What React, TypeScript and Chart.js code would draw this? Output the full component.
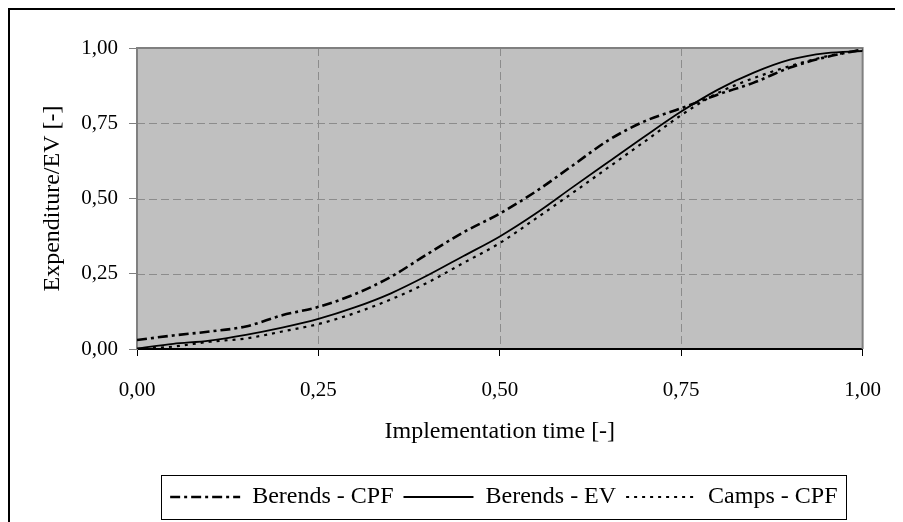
import React, { useEffect, useRef } from 'react';
import { Chart, registerables } from 'chart.js';

Chart.register(...registerables);

// ---- data ----
const T = [0, 0.05, 0.1, 0.15, 0.2, 0.25, 0.3, 0.35, 0.4, 0.45, 0.5, 0.55, 0.6, 0.65, 0.7, 0.75, 0.8, 0.85, 0.9, 0.95, 1.0];
const BERENDS_CPF = [0.03, 0.045, 0.058, 0.075, 0.112, 0.14, 0.182, 0.24, 0.315, 0.388, 0.45, 0.524, 0.609, 0.694, 0.757, 0.8, 0.845, 0.885, 0.935, 0.97, 0.995];
const BERENDS_EV = [0.002, 0.017, 0.028, 0.047, 0.071, 0.1, 0.138, 0.185, 0.244, 0.309, 0.374, 0.451, 0.537, 0.622, 0.707, 0.789, 0.861, 0.918, 0.961, 0.983, 0.99];
const CAMPS_CPF = [0.0, 0.008, 0.024, 0.035, 0.058, 0.083, 0.119, 0.165, 0.22, 0.286, 0.352, 0.434, 0.518, 0.604, 0.69, 0.777, 0.85, 0.9, 0.94, 0.972, 0.995];

const SERIES_NAMES = ['Berends - CPF', 'Berends - EV', 'Camps - CPF'];
const X_TICK_LABELS = ['0,00', '0,25', '0,50', '0,75', '1,00'];
const Y_TICK_LABELS = ['0,00', '0,25', '0,50', '0,75', '1,00'];
const X_TITLE = 'Implementation time [-]';
const Y_TITLE = 'Expenditure/EV [-]';

const FONT = "'Liberation Serif', 'Times New Roman', serif";

const framePlugin = {
  id: 'frame',
  afterLayout(chart: any) {
    const l = chart.legend;
    const a = chart.chartArea;
    if (l && a) {
      l.left = a.left + 4;
      l.right = a.right + 4;
      l.width = a.right - a.left;
    }
  },
  beforeDraw(chart: any) {
    const { ctx, chartArea: a, width, height } = chart;
    ctx.save();
    ctx.fillStyle = '#ffffff';
    ctx.fillRect(0, 0, width, height);
    ctx.fillStyle = '#c0c0c0';
    ctx.fillRect(a.left, a.top, a.right - a.left, a.bottom - a.top);
    ctx.strokeStyle = '#000000';
    ctx.lineWidth = 2;
    ctx.beginPath();
    ctx.moveTo(1, height);
    ctx.lineTo(1, 1);
    ctx.lineTo(width, 1);
    ctx.stroke();
    // dashed grid
    ctx.strokeStyle = '#8c8c8c';
    ctx.lineWidth = 1;
    ctx.setLineDash([8, 4]);
    const xs = chart.scales.x;
    const ys = chart.scales.y;
    for (const t of xs.ticks) {
      if (t.value <= xs.min || t.value >= xs.max) continue;
      const px = Math.round(xs.getPixelForValue(t.value)) + 0.5;
      ctx.beginPath();
      ctx.moveTo(px, a.top);
      ctx.lineTo(px, a.bottom);
      ctx.stroke();
    }
    for (const t of ys.ticks) {
      if (t.value <= ys.min || t.value >= ys.max) continue;
      const py = Math.round(ys.getPixelForValue(t.value)) + 0.5;
      ctx.beginPath();
      ctx.moveTo(a.left, py);
      ctx.lineTo(a.right, py);
      ctx.stroke();
    }
    ctx.restore();
  },
  beforeDatasetsDraw(chart: any) {
    const { ctx, chartArea: a } = chart;
    ctx.save();
    ctx.strokeStyle = '#808080';
    ctx.lineWidth = 2;
    ctx.beginPath();
    ctx.moveTo(a.left, a.top);
    ctx.lineTo(a.right, a.top);
    ctx.lineTo(a.right, a.bottom);
    ctx.stroke();
    ctx.restore();
  },
  afterDraw(chart: any) {
    const l = chart.legend;
    if (!l || !l.legendHitBoxes || !l.legendHitBoxes.length) return;
    const boxes = l.legendHitBoxes;
    let minX = Infinity;
    let maxX = -Infinity;
    for (const b of boxes) {
      minX = Math.min(minX, b.left);
      maxX = Math.max(maxX, b.left + b.width);
    }
    const { ctx } = chart;
    ctx.save();
    ctx.strokeStyle = '#000000';
    ctx.lineWidth = 1;
    const x0 = Math.round(minX - 9) + 0.5;
    const x1 = Math.round(maxX + 9) + 0.5;
    const y0 = Math.round(l.top) + 0.5;
    const y1 = Math.round(l.bottom) + 0.5;
    ctx.strokeRect(x0, y0, x1 - x0, y1 - y0);
    ctx.restore();
  },
};

export default function App() {
  const canvasRef = useRef<HTMLCanvasElement | null>(null);

  useEffect(() => {
    const canvas = canvasRef.current;
    if (!canvas) return;
    const series = [BERENDS_CPF, BERENDS_EV, CAMPS_CPF];
    const styles = [
      { dash: [10, 4, 3, 4], width: 2.6 },
      { dash: [], width: 1.8 },
      { dash: [3, 5], width: 2.2 },
    ];
    const chart = new Chart(canvas, {
      type: 'line',
      data: {
        datasets: series.map((vals, i) => ({
          label: SERIES_NAMES[i],
          data: T.map((t, j) => ({ x: t, y: vals[j] })),
          borderColor: '#000000',
          backgroundColor: '#000000',
          borderWidth: styles[i].width,
          borderDash: styles[i].dash,
          pointRadius: 0,
          pointHoverRadius: 0,
          cubicInterpolationMode: 'monotone' as const,
          fill: false,
        })),
      },
      options: {
        animation: false,
        responsive: false,
        maintainAspectRatio: false,
        events: [],
        layout: { padding: { left: 0, top: 40, right: 29, bottom: 3 } },
        scales: {
          x: {
            type: 'linear',
            min: 0,
            max: 1,
            afterFit: (s: any) => { s.height = 126; },
            ticks: {
              stepSize: 0.25,
              padding: 22,
              color: '#000000',
              font: { family: FONT, size: 21 },
              maxRotation: 0,
              callback: (_v: any, i: number) => X_TICK_LABELS[i],
            },
            grid: {
              drawOnChartArea: false,
              color: '#000000',
              tickLength: 7,
              tickColor: '#000000',
              tickWidth: 1,
            },
            border: { display: true, color: '#000000', width: 2 },
            title: {
              display: true,
              text: X_TITLE,
              color: '#000000',
              font: { family: FONT, size: 24 },
              padding: { top: 0, bottom: 29 },
            },
          },
          y: {
            type: 'linear',
            min: 0,
            max: 1,
            afterFit: (s: any) => { s.width = 129; },
            ticks: {
              stepSize: 0.25,
              padding: 11,
              color: '#000000',
              font: { family: FONT, size: 21 },
              callback: (_v: any, i: number) => Y_TICK_LABELS[i],
            },
            grid: {
              drawOnChartArea: false,
              color: '#808080',
              tickLength: 8,
              tickColor: '#808080',
              tickWidth: 1,
            },
            border: { display: true, color: '#808080', width: 2 },
            title: {
              display: true,
              text: Y_TITLE,
              color: '#000000',
              font: { family: FONT, size: 24 },
              padding: { top: 30, bottom: 0 },
            },
          },
        },
        plugins: {
          tooltip: { enabled: false },
          legend: {
            display: true,
            position: 'bottom',
            labels: {
              usePointStyle: true,
              pointStyle: 'line',
              pointStyleWidth: 70,
              padding: 10,
              color: '#000000',
              font: { family: FONT, size: 24 },
              generateLabels: (ch: any) => {
                const items = Chart.defaults.plugins.legend.labels.generateLabels(ch);
                items.forEach((it: any, i: number) => {
                  it.lineDash = styles[i].dash;
                  it.lineWidth = styles[i].width;
                  it.strokeStyle = '#000000';
                  it.pointStyle = 'line';
                });
                return items;
              },
            },
          },
        },
      },
      plugins: [framePlugin],
    } as any);
    return () => chart.destroy();
  }, []);

  return (
    <div style={{ width: 895, height: 514, position: 'relative' }}>
      <canvas ref={canvasRef} width={895} height={514} style={{ display: 'block' }} />
    </div>
  );
}
